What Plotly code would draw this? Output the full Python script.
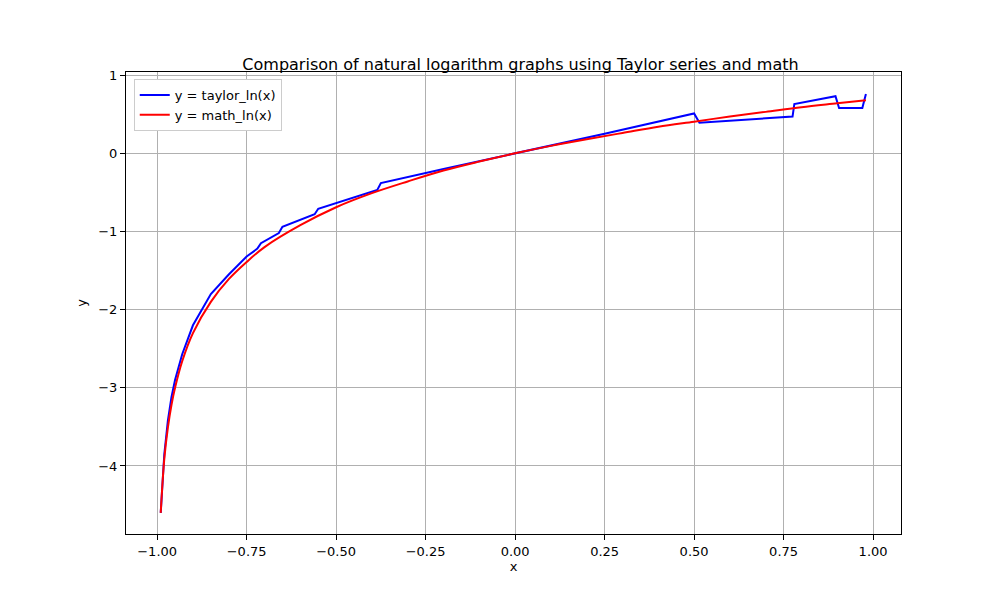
import plotly.graph_objects as go

# values
x_math = [-0.99, -0.98, -0.97, -0.96, -0.95, -0.93, -0.9, -0.85, -0.8, -0.75, -0.7, -0.6, -0.5,
          -0.4, -0.3, -0.2, -0.1, 0.0, 0.1, 0.2, 0.3, 0.4, 0.5, 0.6, 0.7, 0.8, 0.9, 0.98]
y_math = [-4.6, -3.91, -3.51, -3.22, -3.0, -2.66, -2.30, -1.90, -1.61, -1.39, -1.20, -0.92, -0.69,
          -0.51, -0.36, -0.22, -0.105, 0.0, 0.095, 0.18, 0.26, 0.34, 0.405, 0.47, 0.53, 0.59, 0.64, 0.68]

x_taylor = [-0.99, -0.98, -0.97, -0.96, -0.95, -0.93, -0.9, -0.85, -0.8, -0.75, -0.72, -0.71,
            -0.66, -0.65, -0.56, -0.55, -0.385, -0.375, -0.2, 0.0, 0.25, 0.5, 0.515, 0.775, 0.78,
            0.895, 0.905, 0.97, 0.98]
y_taylor = [-4.6, -3.85, -3.42, -3.12, -2.9, -2.57, -2.2, -1.8, -1.55, -1.32, -1.22, -1.15,
            -1.02, -0.94, -0.78, -0.71, -0.47, -0.38, -0.2, 0.0, 0.25, 0.51, 0.39, 0.47, 0.63,
            0.73, 0.58, 0.58, 0.76]

fig = go.Figure()
fig.add_trace(go.Scatter(x=x_taylor, y=y_taylor, mode="lines", name="y = taylor_ln(x)",
                         line=dict(color="blue", width=2)))
fig.add_trace(go.Scatter(x=x_math, y=y_math, mode="lines", name="y = math_ln(x)",
                         line=dict(color="red", width=2, shape="spline")))

axis = dict(showline=True, mirror=True, linecolor="black", linewidth=1, ticks="outside",
            tickcolor="black", showgrid=True, gridcolor="#b0b0b0", zeroline=False,
            tickfont=dict(size=13, color="black"))
fig.update_layout(
    width=1000, height=600, plot_bgcolor="white", paper_bgcolor="white",
    font=dict(family="DejaVu Sans", color="black"),
    margin=dict(l=118, r=107, t=64, b=74),
    title=dict(text="Comparison of natural logarithm graphs using Taylor series and math",
               x=0.5125, xanchor="center", y=0.915, font=dict(size=16)),
    xaxis=dict(axis, range=[-1.087, 1.078], tickvals=[-1, -0.75, -0.5, -0.25, 0, 0.25, 0.5, 0.75, 1],
               tickformat=".2f", title=dict(text="x", font=dict(size=13), standoff=4)),
    yaxis=dict(axis, range=[-4.87, 1.04], tickvals=[-4, -3, -2, -1, 0, 1],
               title=dict(text="y", font=dict(size=13), standoff=8)),
    legend=dict(x=0.01, y=0.985, xanchor="left", yanchor="top", bgcolor="white",
                bordercolor="#cccccc", borderwidth=1, font=dict(size=13)),
)
fig.write_html("out.html")
